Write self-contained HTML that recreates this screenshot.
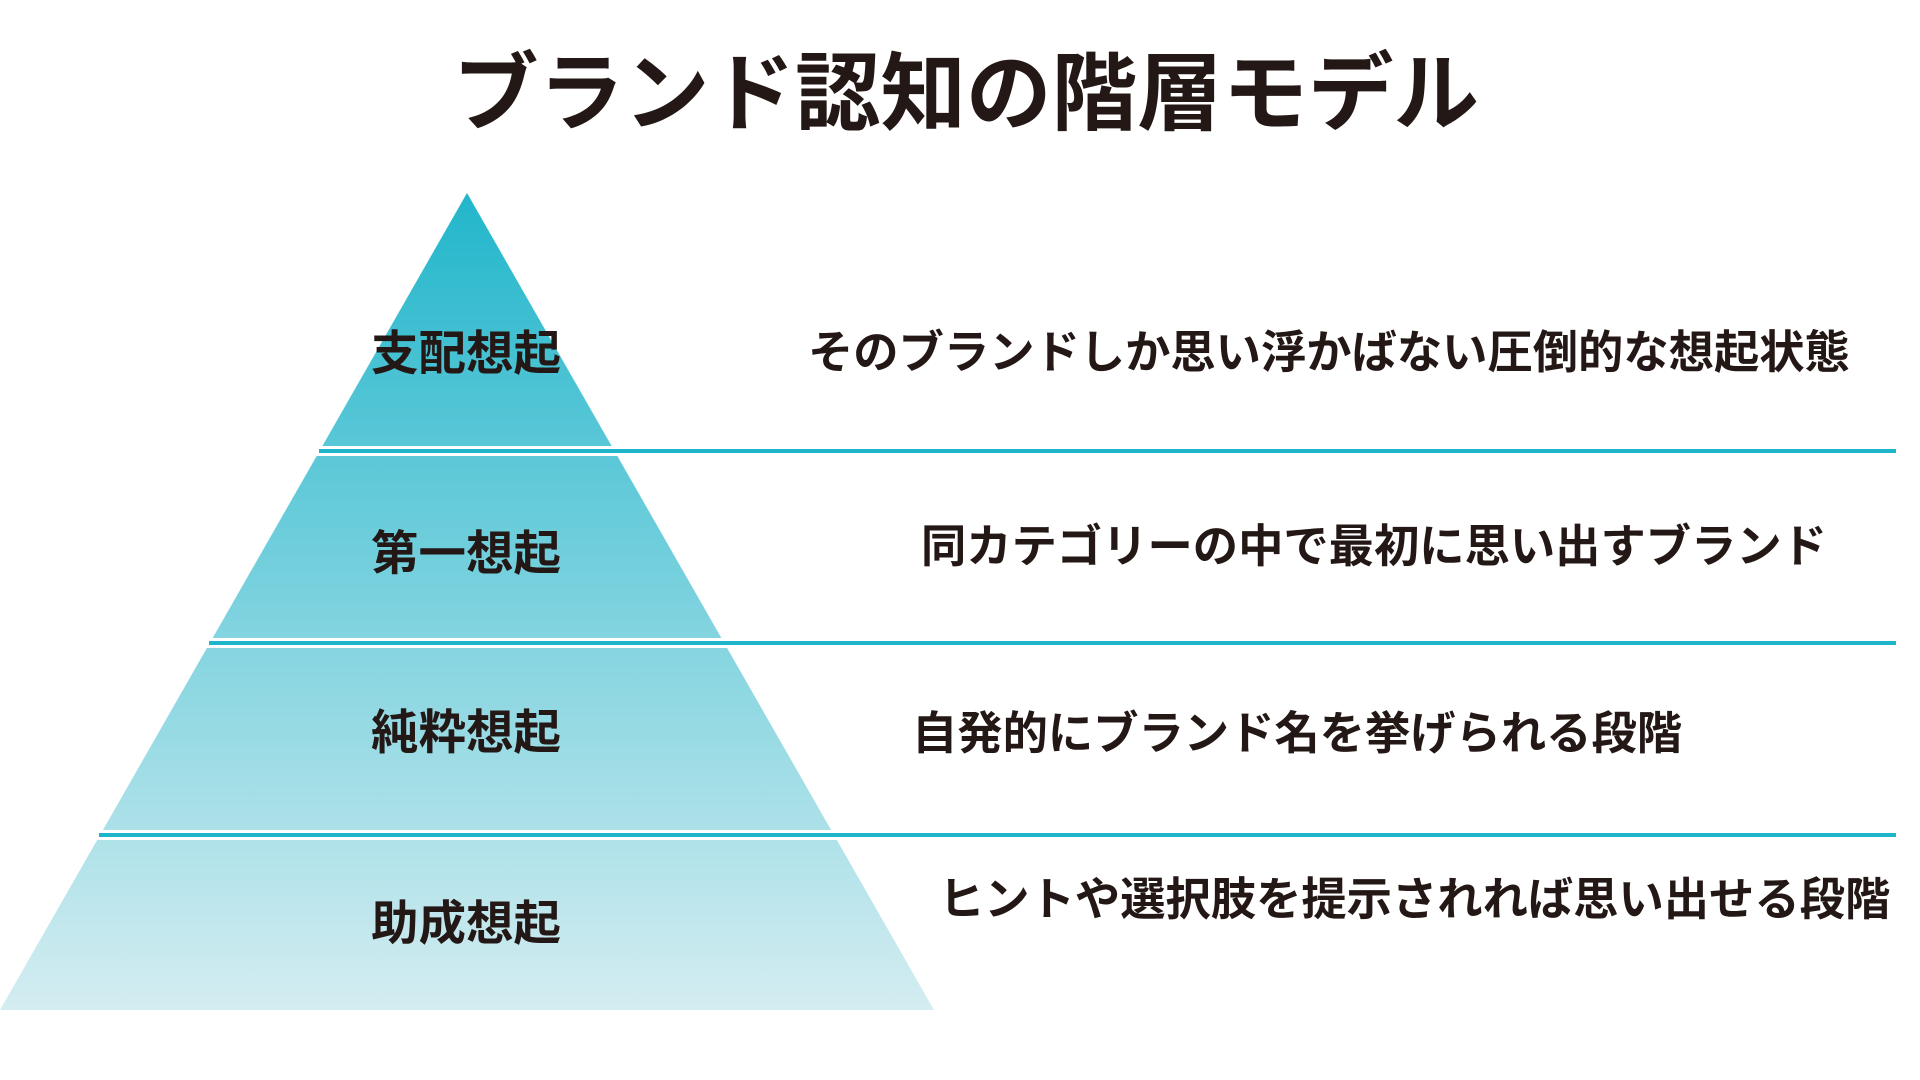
<!DOCTYPE html>
<html><head><meta charset="utf-8"><style>
html,body{margin:0;padding:0;width:1920px;height:1080px;background:#fff;overflow:hidden}
.t{position:absolute;font-family:"Liberation Sans","Noto Sans CJK JP",sans-serif;font-weight:bold;color:#231815;white-space:nowrap;line-height:1}
</style></head><body>
<svg width="1920" height="1080" style="position:absolute;left:0;top:0">
<defs><linearGradient id="g" x1="0" y1="193" x2="0" y2="1010" gradientUnits="userSpaceOnUse">
<stop offset="0" stop-color="#22b6cb"/><stop offset="1" stop-color="#d4edf1"/></linearGradient></defs>
<polygon points="467,193 934,1010 0,1010" fill="url(#g)"/>
<rect x="0" y="446" width="1920" height="10" fill="#fff"/>
<rect x="0" y="638" width="1920" height="10" fill="#fff"/>
<rect x="0" y="830" width="1920" height="10" fill="#fff"/>
<rect x="319" y="449" width="1577" height="4" fill="#1fb5c8"/>
<rect x="209" y="641" width="1687" height="4" fill="#1fb5c8"/>
<rect x="99" y="833" width="1797" height="4" fill="#1fb5c8"/>
</svg>
<div class="t" style="left:453px;top:52px;font-size:85.5px">ブランド認知の階層モデル</div>
<div class="t" style="left:371px;top:331px;font-size:47.5px">支配想起</div>
<div class="t" style="left:371px;top:531px;font-size:47.5px">第一想起</div>
<div class="t" style="left:371px;top:710px;font-size:47.5px">純粋想起</div>
<div class="t" style="left:371px;top:901px;font-size:47.5px">助成想起</div>
<div class="t" style="left:808px;top:330px;font-size:45.3px">そのブランドしか思い浮かばない圧倒的な想起状態</div>
<div class="t" style="left:921px;top:524px;font-size:45.3px">同カテゴリーの中で最初に思い出すブランド</div>
<div class="t" style="left:912px;top:711px;font-size:45.3px">自発的にブランド名を挙げられる段階</div>
<div class="t" style="left:939px;top:877px;font-size:45.3px">ヒントや選択肢を提示されれば思い出せる段階</div>
</body></html>
